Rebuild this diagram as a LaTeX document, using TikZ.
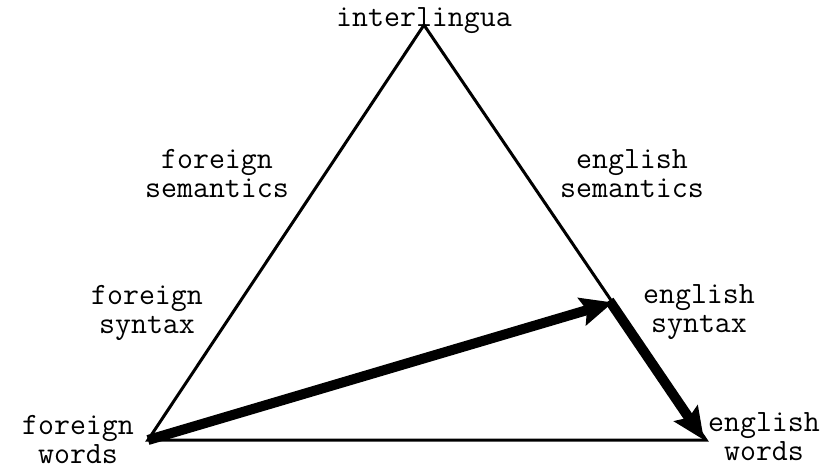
\documentclass[tikz,border=0pt]{standalone}
\usepackage{fontspec}
\usetikzlibrary{arrows.meta}
\tikzset{
  lbl/.style={font=\ttfamily\fontsize{31}{29}\selectfont, align=center, inner sep=0pt, anchor=base},
  edge/.style={line width=3pt, line join=miter},
  route/.style={line width=10pt, -{Stealth[length=32pt,width=28pt,inset=5pt]}}
}
\begin{document}
\begin{tikzpicture}[x=1pt,y=-1pt]
\useasboundingbox (0,0) rectangle (831,472);
\coordinate (top) at (424,25);
\coordinate (bl) at (148,440);
\coordinate (br) at (706,440);
\coordinate (es) at (611,303);
\coordinate (ew) at (704,440);
\draw[edge] (bl) -- (top) -- (br) -- cycle;
\node[lbl] (il) at (424,26) {interlingua};
\node[lbl] (fsem) at (217,197) {foreign\\semantics};
\node[lbl] (esem) at (632,197) {english\\semantics};
\node[lbl] (fsyn) at (147,333) {foreign\\syntax};
\node[lbl] (esyn) at (699,332) {english\\syntax};
\node[lbl] (fw) at (78,463) {foreign\\words};
\node[lbl] (ewd) at (764,460) {english\\words};
\draw[route, shorten >=-2pt] (bl) -- (es);
\draw[route, shorten <=-3pt] (es) -- (ew);
\end{tikzpicture}
\end{document}
